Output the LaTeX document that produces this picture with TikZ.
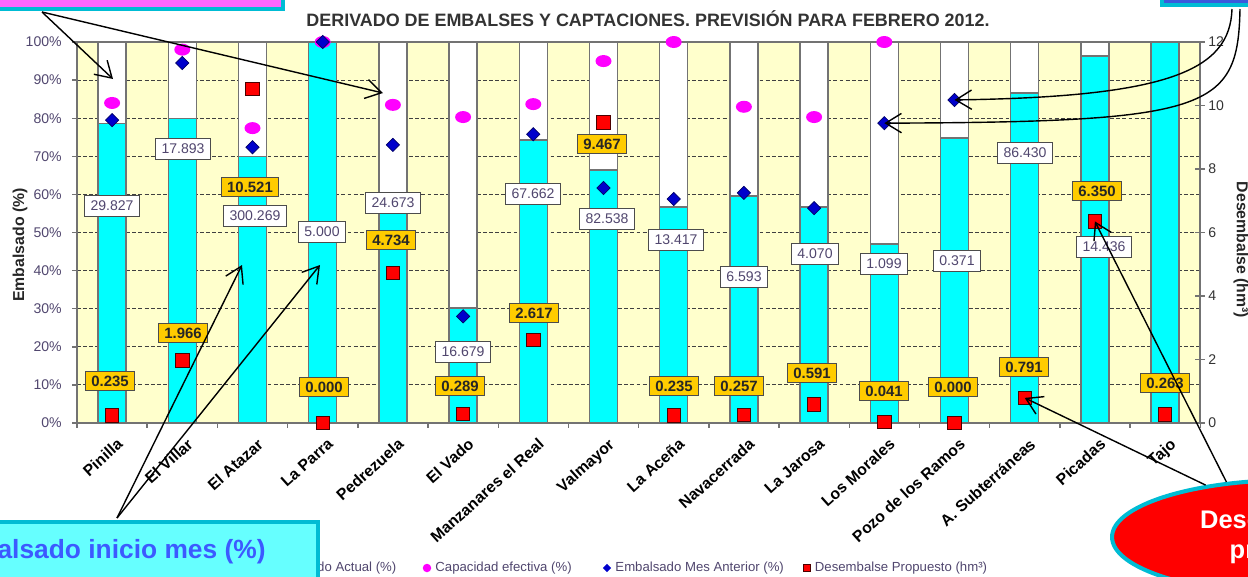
\documentclass[tikz,border=0pt]{standalone}
\usepackage{fontspec}
\setmainfont{Liberation Sans}
\usepackage{tikz}
\usetikzlibrary{shapes.geometric}
\usetikzlibrary{arrows.meta}
\usetikzlibrary{positioning}
\definecolor{plotbg}{RGB}{255,255,204}
\definecolor{barcyan}{RGB}{0,255,255}
\definecolor{tealrim}{RGB}{0,188,212}
\definecolor{valyel}{RGB}{255,204,0}
\definecolor{ticktxt}{RGB}{80,70,110}
\definecolor{capmag}{RGB}{255,0,255}
\definecolor{antblue}{RGB}{0,0,204}
\definecolor{boxpink}{RGB}{255,102,255}
\definecolor{boxblue}{RGB}{58,90,220}
\definecolor{boxcyan}{RGB}{102,255,255}
\definecolor{initxt}{RGB}{60,90,255}
\tikzstyle{gridln} = [black!75, line width=0.6pt, dash pattern=on 2.2pt off 1.3pt]
\tikzstyle{axisln} = [black!55, line width=0.8pt]
\tikzstyle{barln} = [draw=black!55, line width=0.7pt]
\tikzstyle{capdot} = [ellipse, fill=capmag, minimum width=0.32cm, minimum height=0.24cm, inner sep=0pt]
\tikzstyle{antdia} = [diamond, fill=antblue, draw=antblue!50!black, line width=0.4pt, minimum width=0.27cm, minimum height=0.27cm, inner sep=0pt]
\tikzstyle{dessq} = [rectangle, fill=red, draw=red!30!black, line width=0.5pt, minimum size=0.27cm, inner sep=0pt]
\tikzstyle{volbox} = [rectangle, draw=black!70, fill=white, line width=0.6pt, text=ticktxt, font=\fontsize{8}{9}\selectfont, inner xsep=3.5pt, inner ysep=0pt, minimum height=0.42cm]
\tikzstyle{valbox} = [rectangle, draw=black!70, fill=valyel, line width=0.6pt, text=black!85, font=\fontsize{8.5}{10}\selectfont\bfseries, inner xsep=3.2pt, inner ysep=0pt, minimum height=0.37cm]
\tikzstyle{catlab} = [font=\fontsize{9}{10}\selectfont\bfseries, rotate=42, anchor=north east, inner sep=0pt]
\tikzstyle{ticklab} = [text=ticktxt, font=\fontsize{8}{9}\selectfont, inner sep=0pt]
\tikzstyle{legtxt} = [text=ticktxt, font=\fontsize{7.5}{9}\selectfont, inner sep=0pt]
\tikzstyle{callout} = [line width=0.8pt, -{Straight Barb[length=9pt,width=11pt]}]
\tikzstyle{noteframe} = [draw=tealrim, line width=2.3pt]

\begin{document}
\begin{tikzpicture}[x=0.02cm, y=-0.02cm, align=center]

    \clip (0,0) rectangle (1248,576);

    % plot area and grid
    \fill[plotbg] (77,42) rectangle (1200,423);
    \foreach \g in {1,...,9}
        \draw[gridln] (77,{423-38.1*\g}) -- (1200,{423-38.1*\g});

    % bars: white up to 100%, cyan = embalsado actual
    \foreach \i/\v in {1/78.7, 2/80, 3/70, 4/100, 5/58, 6/30.2, 7/74.3, 8/66.4,
                       9/56.7, 10/59.6, 11/56.7, 12/47, 13/74.8, 14/86.6, 15/96.3, 16/100}{
        \pgfmathsetmacro\cx{77+70.2*(\i-0.5)}
        \pgfmathsetmacro\cy{423-3.81*\v}
        \draw[barln, fill=white] (\cx-14,42) rectangle (\cx+14,\cy);
        \draw[barln, fill=barcyan] (\cx-14,\cy) rectangle (\cx+14,423);
    }

    % axes
    \draw[axisln] (77,42) -- (1200,42);
    \draw[axisln] (77,42) -- (77,423) -- (1200,423) -- (1200,42);
    \foreach \g [evaluate=\g as \pc using int(10*\g)] in {0,...,10}{
        \draw[axisln] (72,{423-38.1*\g}) -- (77,{423-38.1*\g});
        \node[ticklab, anchor=east] (yt\g) at (62,{423-38.1*\g}) {\pc\%};
    }
    \foreach \h in {0,2,...,12}{
        \draw[axisln] (1195,{423-31.75*\h}) -- (1205,{423-31.75*\h});
        \node[ticklab, anchor=west, text=black!80] (rt\h) at (1208,{423-31.75*\h}) {\h};
    }
    \foreach \k in {0,...,16}
        \draw[axisln] ({77+70.2*\k},423) -- ++(0,5);

    % markers
    \foreach \i/\v in {1/84, 2/98, 3/77.4, 4/100, 5/83.5, 6/80.3, 7/83.7, 8/95,
                       9/100, 10/83, 11/80.3, 12/100}
        \node[capdot] (cap\i) at ({77+70.2*(\i-0.5)},{423-3.81*\v}) {};
    \foreach \i/\v in {1/79.5, 2/94.5, 3/72.4, 4/100, 5/73, 6/28, 7/75.8, 8/61.7,
                       9/58.8, 10/60.4, 11/56.4, 12/78.7, 13/84.8}
        \node[antdia] (ant\i) at ({77+70.2*(\i-0.5)},{423-3.81*\v}) {};
    \foreach \i/\d in {1/0.235, 2/1.966, 3/10.521, 4/0, 5/4.734, 6/0.289, 7/2.617, 8/9.467,
                       9/0.235, 10/0.257, 11/0.591, 12/0.041, 13/0, 14/0.791, 15/6.35, 16/0.263}
        \node[dessq] (des\i) at ({77+70.2*(\i-0.5)},{423-31.75*\d}) {};

    % volume labels
    \foreach \x/\y/\t [count=\n] in {112/206/29.827, 183/149/17.893, 255/216/300.269, 322/232/5.000,
                                    393/203/24.673, 463/352/16.679, 533/194/67.662, 607/219/82.538,
                                    676/240/13.417, 744/277/6.593, 815/254/4.070, 884/264/1.099,
                                    957/261/0.371, 1025/153/86.430, 1104/247/14.436}
        \node[volbox] (vol\n) at (\x,\y) {\t};

    % desembalse labels
    \foreach \x/\y/\t [count=\n] in {110/381/0.235, 183/333/1.966, 250/187/10.521, 324/387/0.000,
                                    391/240/4.734, 460/386/0.289, 534/313/2.617, 602/144/9.467,
                                    674/386/0.235, 739/386/0.257, 812/373/0.591, 884/391/0.041,
                                    953/387/0.000, 1024/367/0.791, 1097/191/6.350, 1165/383/0.263}
        \node[valbox] (val\n) at (\x,\y) {\t};

    % categories
    \foreach \t [count=\i] in {Pinilla, El Villar, El Atazar, La Parra, Pedrezuela, El Vado,
                               Manzanares el Real, Valmayor, La Aceña, Navacerrada, La Jarosa,
                               Los Morales, Pozo de los Ramos, A. Subterráneas, Picadas, Tajo}
        \node[catlab] (cat\i) at ({77+70.2*(\i-0.5)+4},437) {\t};

    % titles
    \node[font=\fontsize{10.2}{12}\selectfont\bfseries, text=black!80] (title) at (648,19)
        {DERIVADO DE EMBALSES Y CAPTACIONES. PREVISIÓN PARA FEBRERO 2012.};
    \node[font=\fontsize{9}{11}\selectfont\bfseries, text=black!85, rotate=90] (embl) at (20,245)
        {Embalsado (\%)};
    \node[font=\fontsize{9}{11}\selectfont\bfseries, text=black!85, rotate=-90] (desl) at (1241,250)
        {Desembalse (hm³)};

    % legend
    \node[rectangle, fill=barcyan, draw=black!60, minimum size=0.15cm, inner sep=0pt] (lg1) at (258,568) {};
    \node[legtxt, right=2pt of lg1] (lt1) {Embalsado Actual (\%)};
    \node[circle, fill=capmag, minimum size=0.17cm, inner sep=0pt] (lg2) at (427,568) {};
    \node[legtxt, right=2pt of lg2] (lt2) {Capacidad efectiva (\%)};
    \node[diamond, fill=antblue, minimum size=0.17cm, inner sep=0pt] (lg3) at (607,568) {};
    \node[legtxt, right=2pt of lg3] (lt3) {Embalsado Mes Anterior (\%)};
    \node[rectangle, fill=red, draw=red!30!black, minimum size=0.15cm, inner sep=0pt] (lg4) at (807,568) {};
    \node[legtxt, right=2pt of lg4] (lt4) {Desembalse Propuesto (hm³)};

    % callouts
    \node[rectangle, noteframe, fill=boxpink, minimum width=6.5cm, minimum height=1.6cm,
        anchor=south east] (capbox) at (285,11) {};
    \node[rectangle, noteframe, fill=boxblue, minimum width=3cm, minimum height=1.6cm,
        anchor=south west] (antbox) at (1160,7) {};
    \node[rectangle, noteframe, fill=boxcyan, minimum width=8.6cm, minimum height=1.2cm,
        anchor=north east, text=initxt, font=\fontsize{15}{18}\selectfont\bfseries] (inibox) at (320,520)
        {Embalsado inicio mes (\%)};
    \node[ellipse, noteframe, fill=red, minimum width=7.2cm, minimum height=2.28cm,
        text=white, font=\fontsize{14.5}{17}\selectfont\bfseries] (desbox) at (1292,537)
        {Desembalse\hspace*{0.7cm}\\propuesto};

    \coordinate (capfoot) at (42,12);
    \coordinate (pinw) at (113,79);
    \coordinate (pedw) at (383,93);
    \coordinate (inifoot) at (117,518);
    \coordinate (atzc) at (242,265);
    \coordinate (parc) at (320,265);
    \coordinate (antfoot1) at (1232,9);
    \coordinate (antfoot2) at (1240,9);

    \draw[callout] (capfoot) -- (pinw);
    \draw[callout] (capfoot) -- (pedw);
    \draw[callout] (inifoot) -- (atzc);
    \draw[callout] (inifoot) -- (parc);
    \draw[callout] (antfoot1) .. controls (1230,70) and (1170,97) .. (ant13.center);
    \draw[callout] (antfoot2) .. controls (1238,110) and (1210,122) .. (ant12.center);
    \draw[callout] (desbox.149) -- (des14.center);
    \draw[callout] (desbox.140) -- (des15.center);

\end{tikzpicture}
\end{document}
